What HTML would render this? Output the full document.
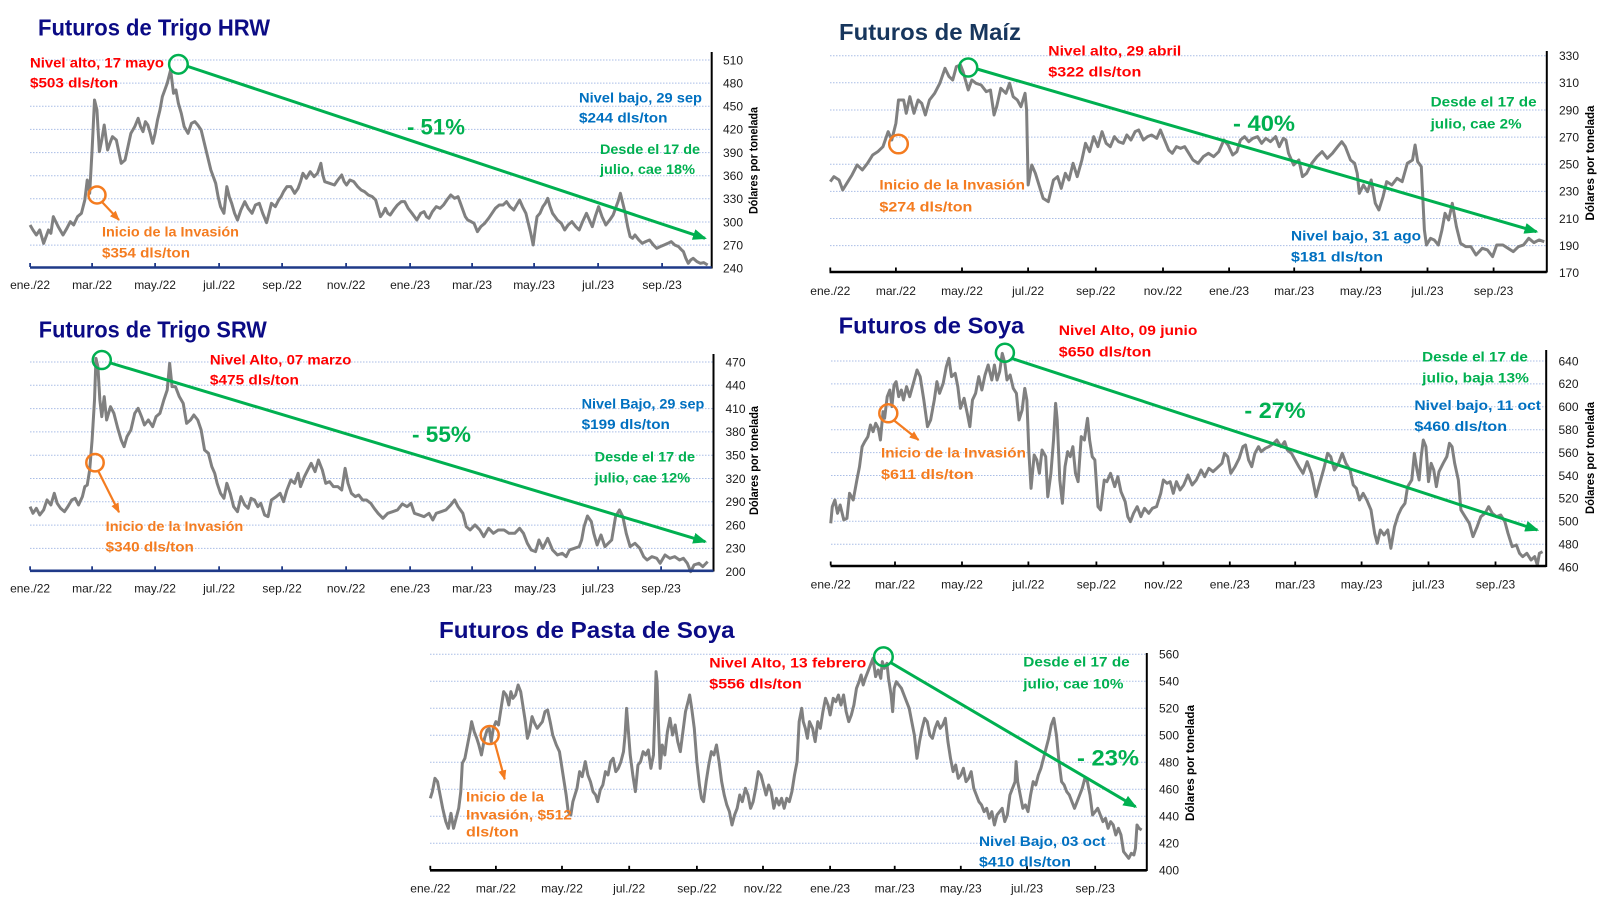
<!DOCTYPE html>
<html><head><meta charset="utf-8"><style>
body{margin:0;background:#fff}
svg{display:block}
.g{stroke:#a9bde6;stroke-width:1;stroke-dasharray:1.5 1.5}
.v{font-size:12px;fill:#1a1a1a}
.x{font-size:12px;fill:#1a1a1a;text-anchor:middle}
.a{font-weight:bold;font-size:14px}
.p{font-weight:bold;font-size:22px;fill:#00b050}
.t{font-weight:bold;font-size:23px;fill:#0b0b85}
.yl{font-weight:bold;font-size:12px;text-anchor:middle;fill:#000}
.ln{fill:none;stroke:#808080;stroke-width:3;stroke-linejoin:round;vector-effect:non-scaling-stroke}
.r{fill:#ff0000}.b{fill:#0070c0}.gr{fill:#00b050}.o{fill:#f47c20}
.gc{fill:none;stroke:#00b050;stroke-width:2.5}
.oc{fill:none;stroke:#f47c20;stroke-width:2.5}
.ga{stroke:#00b050;stroke-width:3}
.oa{stroke:#f47c20;stroke-width:2.2}
</style></head><body>
<svg width="1600" height="905" viewBox="0 0 1600 905" font-family="'Liberation Sans', sans-serif">
<defs>
<marker id="mg" markerWidth="14" markerHeight="11" refX="12" refY="5.5" orient="auto" markerUnits="userSpaceOnUse"><path d="M0,0 L14,5.5 L0,11 z" fill="#00b050"/></marker>
<marker id="mo" markerWidth="10" markerHeight="8" refX="9" refY="4" orient="auto" markerUnits="userSpaceOnUse"><path d="M0,0 L10,4 L0,8 z" fill="#f47c20"/></marker>
</defs>

<!-- ================= CHART 1: Trigo HRW ================= -->
<text class="t" x="38" y="35.5" textLength="232" lengthAdjust="spacingAndGlyphs">Futuros de Trigo HRW</text>
<g class="g">
<line x1="30" y1="60" x2="711" y2="60"/><line x1="30" y1="83.1" x2="711" y2="83.1"/><line x1="30" y1="106.3" x2="711" y2="106.3"/>
<line x1="30" y1="129.4" x2="711" y2="129.4"/><line x1="30" y1="152.6" x2="711" y2="152.6"/><line x1="30" y1="175.7" x2="711" y2="175.7"/>
<line x1="30" y1="198.8" x2="711" y2="198.8"/><line x1="30" y1="222" x2="711" y2="222"/><line x1="30" y1="245.1" x2="711" y2="245.1"/>
</g>
<g transform="matrix(0.4847 0 0 0.3333 0 0)">
<polyline class="ln" points="62,675 68,690 75,705 82,690 90,730 100,690 105,700 110,650 115,665 120,680 130,705 138,685 145,665 152,675 160,650 168,640 175,600 180,540 185,580 190,450 195,300 200,330 205,455 210,420 215,375 222,450 228,425 232,410 240,420 245,455 250,490 258,480 264,440 270,400 278,380 285,355 290,380 295,395 300,365 305,375 310,400 315,430 320,400 325,360 330,330 335,290 340,270 345,250 352,210 358,280 363,270 368,310 374,340 380,380 388,400 395,370 402,365 408,375 415,390 420,420 425,450 430,480 435,510 440,530 445,550 450,590 455,620 462,640 468,560 473,590 478,610 484,640 490,660 497,630 505,605 512,625 520,640 527,615 535,610 542,640 550,668 555,640 560,610 568,620 575,600 580,590 585,575 592,560 600,560 608,580 615,565 620,545 625,520 632,535 640,515 648,530 655,520 662,490 666,525 670,545 680,550 690,555 697,540 705,525 710,545 715,555 722,540 730,545 738,560 745,570 752,575 760,585 768,590 775,600 780,625 785,650 790,640 795,625 800,640 805,645 812,630 820,615 828,605 835,605 842,625 850,640 855,650 860,660 868,640 875,635 880,650 885,655 892,635 900,620 908,625 915,615 922,600 930,585 938,595 945,590 950,610 955,630 960,650 965,660 972,665 978,670 985,695 992,680 1000,670 1008,655 1015,640 1022,625 1030,615 1038,615 1045,605 1052,620 1060,630 1066,615 1072,600 1078,620 1085,640 1090,670 1095,700 1100,735 1104,690 1108,650 1114,640 1120,620 1125,610 1130,595 1135,620 1140,640 1145,650 1150,660 1158,670 1165,690 1172,675 1180,665 1188,680 1195,690 1202,665 1210,640 1216,660 1222,680 1228,650 1235,620 1242,650 1250,675 1258,660 1265,645 1270,625 1275,605 1280,580 1285,610 1290,640 1295,680 1300,710 1305,715 1310,705 1318,720 1325,730 1332,725 1340,720 1348,735 1355,745 1362,740 1370,735 1378,730 1385,725 1392,735 1400,740 1405,748 1410,755 1415,775 1420,790 1425,780 1430,775 1438,785 1445,790 1452,788 1460,795"/>
</g>
<line x1="711.7" y1="52" x2="711.7" y2="268.5" stroke="#000" stroke-width="2"/>
<line x1="30" y1="267.5" x2="711.7" y2="267.5" stroke="#1f3a88" stroke-width="2.6"/>
<g stroke="#1f3a88" stroke-width="1.8">
<line x1="30.1" y1="267" x2="30.1" y2="263"/><line x1="92.1" y1="267" x2="92.1" y2="263"/><line x1="155.1" y1="267" x2="155.1" y2="263"/><line x1="219.1" y1="267" x2="219.1" y2="263"/><line x1="282.1" y1="267" x2="282.1" y2="263"/><line x1="346.1" y1="267" x2="346.1" y2="263"/><line x1="410.1" y1="267" x2="410.1" y2="263"/><line x1="472.1" y1="267" x2="472.1" y2="263"/><line x1="534.1" y1="267" x2="534.1" y2="263"/><line x1="598.1" y1="267" x2="598.1" y2="263"/><line x1="662.1" y1="267" x2="662.1" y2="263"/>
</g>
<g class="v">
<text x="723" y="64.3">510</text><text x="723" y="87.4">480</text><text x="723" y="110.6">450</text><text x="723" y="133.7">420</text><text x="723" y="156.9">390</text><text x="723" y="180">360</text><text x="723" y="203.1">330</text><text x="723" y="226.3">300</text><text x="723" y="249.4">270</text><text x="723" y="272.6">240</text>
</g>
<text class="yl" transform="translate(757.5,160.5) rotate(-90)" textLength="107" lengthAdjust="spacingAndGlyphs">Dólares por tonelada</text>
<g class="x">
<text x="30.1" y="289">ene./22</text><text x="92.1" y="289">mar./22</text><text x="155.1" y="289">may./22</text><text x="219.1" y="289">jul./22</text><text x="282.1" y="289">sep./22</text><text x="346.1" y="289">nov./22</text><text x="410.1" y="289">ene./23</text><text x="472.1" y="289">mar./23</text><text x="534.1" y="289">may./23</text><text x="598.1" y="289">jul./23</text><text x="662.1" y="289">sep./23</text>
</g>
<line class="ga" x1="186.5" y1="66" x2="705" y2="238.3" marker-end="url(#mg)"/>
<circle class="gc" cx="178.4" cy="64.3" r="9.3"/>
<circle class="oc" cx="97" cy="195" r="8.5"/>
<line class="oa" x1="102.5" y1="202.5" x2="119" y2="220" marker-end="url(#mo)"/>
<text class="a r" x="30" y="67.3" textLength="134" lengthAdjust="spacingAndGlyphs">Nivel alto, 17 mayo</text>
<text class="a r" x="30" y="87.5" textLength="88" lengthAdjust="spacingAndGlyphs">$503 dls/ton</text>
<text class="p" x="407" y="134.5" textLength="58" lengthAdjust="spacingAndGlyphs">- 51%</text>
<text class="a b" x="579" y="102.7" textLength="123" lengthAdjust="spacingAndGlyphs">Nivel bajo, 29 sep</text>
<text class="a b" x="579" y="122.7" textLength="88.5" lengthAdjust="spacingAndGlyphs">$244 dls/ton</text>
<text class="a gr" x="600" y="154" textLength="100" lengthAdjust="spacingAndGlyphs">Desde el 17 de</text>
<text class="a gr" x="600" y="174" textLength="95" lengthAdjust="spacingAndGlyphs">julio, cae 18%</text>
<text class="a o" x="102" y="236.7" textLength="137" lengthAdjust="spacingAndGlyphs">Inicio de la Invasión</text>
<text class="a o" x="102" y="257.3" textLength="88" lengthAdjust="spacingAndGlyphs">$354 dls/ton</text>

<!-- ================= CHART 2: Maiz ================= -->
<text class="t" x="839" y="40" textLength="182" lengthAdjust="spacingAndGlyphs" style="fill:#17365d">Futuros de Maíz</text>
<g class="g">
<line x1="830" y1="55.7" x2="1546" y2="55.7"/><line x1="830" y1="82.8" x2="1546" y2="82.8"/><line x1="830" y1="110" x2="1546" y2="110"/>
<line x1="830" y1="137.1" x2="1546" y2="137.1"/><line x1="830" y1="164.2" x2="1546" y2="164.2"/><line x1="830" y1="191.4" x2="1546" y2="191.4"/>
<line x1="830" y1="218.5" x2="1546" y2="218.5"/><line x1="830" y1="245.6" x2="1546" y2="245.6"/>
</g>
<g transform="matrix(0.5166 0 0 0.3333 790 0)">
<polyline class="ln" points="78,545 85,530 95,540 102,570 110,550 120,525 130,495 140,510 150,490 160,465 170,455 180,440 190,395 197,420 205,370 210,300 220,300 225,340 232,290 240,340 248,300 255,310 262,345 270,300 280,280 290,250 300,205 308,230 315,240 322,200 330,195 335,215 345,270 352,240 360,250 370,255 380,275 388,270 395,345 400,320 408,265 418,280 425,250 432,290 440,300 447,320 455,280 458,330 461,555 468,495 475,520 483,560 490,595 500,605 510,540 518,530 525,565 533,520 540,540 548,490 556,530 565,480 572,430 580,455 588,410 596,440 604,395 612,430 620,440 628,410 636,425 645,430 652,405 660,420 668,395 675,390 684,420 692,410 700,405 710,415 717,390 725,420 733,450 740,460 748,440 756,445 764,440 772,460 780,480 790,490 800,470 810,460 820,470 830,455 840,420 848,435 857,465 865,455 872,420 880,410 888,425 896,415 905,410 913,430 921,415 930,425 940,410 947,440 955,415 960,420 965,460 975,495 985,480 992,530 1000,520 1010,490 1020,470 1030,455 1040,475 1050,460 1060,440 1068,425 1075,440 1085,480 1093,490 1098,520 1102,580 1110,555 1118,575 1125,540 1133,610 1140,630 1148,590 1155,545 1165,555 1175,535 1185,545 1195,490 1205,480 1210,435 1215,485 1222,500 1228,690 1232,735 1240,715 1247,720 1255,735 1262,690 1268,640 1275,660 1282,610 1290,680 1298,730 1308,740 1318,740 1328,765 1340,745 1350,750 1360,770 1368,735 1380,735 1390,745 1400,755 1410,740 1420,735 1430,715 1440,728 1450,720 1460,725"/>
</g>
<line x1="1546.8" y1="51" x2="1546.8" y2="272.5" stroke="#000" stroke-width="2"/>
<line x1="829.5" y1="272" x2="1546.8" y2="272" stroke="#000" stroke-width="2.6"/>
<g stroke="#000" stroke-width="1.8">
<line x1="830.3" y1="271.5" x2="830.3" y2="267.5"/><line x1="895.9" y1="271.5" x2="895.9" y2="267.5"/><line x1="962" y1="271.5" x2="962" y2="267.5"/><line x1="1028.1" y1="271.5" x2="1028.1" y2="267.5"/><line x1="1095.8" y1="271.5" x2="1095.8" y2="267.5"/><line x1="1163" y1="271.5" x2="1163" y2="267.5"/><line x1="1229.1" y1="271.5" x2="1229.1" y2="267.5"/><line x1="1294.2" y1="271.5" x2="1294.2" y2="267.5"/><line x1="1360.8" y1="271.5" x2="1360.8" y2="267.5"/><line x1="1427.5" y1="271.5" x2="1427.5" y2="267.5"/><line x1="1493.6" y1="271.5" x2="1493.6" y2="267.5"/>
</g>
<g class="v">
<text x="1559" y="60">330</text><text x="1559" y="87.1">310</text><text x="1559" y="114.3">290</text><text x="1559" y="141.4">270</text><text x="1559" y="168.5">250</text><text x="1559" y="195.7">230</text><text x="1559" y="222.8">210</text><text x="1559" y="249.9">190</text><text x="1559" y="277">170</text>
</g>
<text class="yl" transform="translate(1594,163) rotate(-90)" textLength="115" lengthAdjust="spacingAndGlyphs">Dólares por tonelada</text>
<g class="x">
<text x="830.3" y="295">ene./22</text><text x="895.9" y="295">mar./22</text><text x="962" y="295">may./22</text><text x="1028.1" y="295">jul./22</text><text x="1095.8" y="295">sep./22</text><text x="1163" y="295">nov./22</text><text x="1229.1" y="295">ene./23</text><text x="1294.2" y="295">mar./23</text><text x="1360.8" y="295">may./23</text><text x="1427.5" y="295">jul./23</text><text x="1493.6" y="295">sep./23</text>
</g>
<line class="ga" x1="977" y1="69" x2="1536.5" y2="231.7" marker-end="url(#mg)"/>
<circle class="gc" cx="968.2" cy="67.5" r="9"/>
<circle class="oc" cx="898.5" cy="144" r="9.3"/>
<text class="a r" x="1048.3" y="55.7" textLength="133" lengthAdjust="spacingAndGlyphs">Nivel alto, 29 abril</text>
<text class="a r" x="1048.3" y="76.7" textLength="93" lengthAdjust="spacingAndGlyphs">$322 dls/ton</text>
<text class="p" x="1233" y="131" textLength="62" lengthAdjust="spacingAndGlyphs">- 40%</text>
<text class="a gr" x="1430.6" y="106.7" textLength="106" lengthAdjust="spacingAndGlyphs">Desde el 17 de</text>
<text class="a gr" x="1430.6" y="128.3" textLength="91" lengthAdjust="spacingAndGlyphs">julio, cae 2%</text>
<text class="a b" x="1291" y="240.7" textLength="130" lengthAdjust="spacingAndGlyphs">Nivel bajo, 31 ago</text>
<text class="a b" x="1291" y="261.7" textLength="92" lengthAdjust="spacingAndGlyphs">$181 dls/ton</text>
<text class="a o" x="879.4" y="189.3" textLength="145.6" lengthAdjust="spacingAndGlyphs">Inicio de la Invasión</text>
<text class="a o" x="879.4" y="211.7" textLength="93" lengthAdjust="spacingAndGlyphs">$274 dls/ton</text>

<!-- ================= CHART 3: Trigo SRW ================= -->
<text class="t" x="38.8" y="337.5" textLength="228" lengthAdjust="spacingAndGlyphs">Futuros de Trigo SRW</text>
<g class="g">
<line x1="30" y1="362" x2="713" y2="362"/><line x1="30" y1="385.3" x2="713" y2="385.3"/><line x1="30" y1="408.6" x2="713" y2="408.6"/>
<line x1="30" y1="431.9" x2="713" y2="431.9"/><line x1="30" y1="455.2" x2="713" y2="455.2"/><line x1="30" y1="478.5" x2="713" y2="478.5"/>
<line x1="30" y1="501.8" x2="713" y2="501.8"/><line x1="30" y1="525.1" x2="713" y2="525.1"/><line x1="30" y1="548.4" x2="713" y2="548.4"/>
</g>
<g transform="matrix(0.4847 0 0 0.3333 0 300)">
<polyline class="ln" points="62,620 68,640 75,625 82,645 90,630 97,600 105,615 112,580 118,610 125,625 133,635 140,620 148,600 155,595 162,615 170,590 175,560 180,555 185,510 190,420 195,300 198,175 202,200 206,300 210,350 215,290 220,360 228,320 235,340 243,385 250,420 256,440 262,410 270,390 278,340 285,325 292,350 298,375 306,360 315,380 322,350 330,340 338,300 345,270 350,190 355,260 362,260 370,290 378,310 385,370 393,360 400,345 408,360 415,390 422,450 430,460 437,500 443,520 448,550 455,580 462,595 468,550 475,580 482,620 490,635 497,590 505,615 512,625 518,595 525,600 532,620 538,610 546,645 553,650 560,600 570,590 578,580 585,605 592,570 600,540 608,550 615,520 620,560 628,530 635,510 642,490 650,515 657,480 665,510 672,550 680,545 688,560 697,560 705,570 712,505 718,550 725,580 733,590 740,585 748,600 756,600 765,610 772,625 780,640 790,655 800,640 810,635 820,630 830,612 840,620 848,610 855,640 865,645 875,650 885,640 893,660 900,640 910,635 920,630 930,615 938,600 945,620 955,640 962,680 970,690 980,675 990,690 998,710 1008,685 1018,700 1028,690 1040,690 1050,700 1062,700 1072,685 1080,700 1088,730 1096,750 1105,755 1112,720 1120,745 1130,715 1140,750 1150,765 1160,760 1168,770 1175,750 1185,745 1195,740 1200,720 1205,680 1212,648 1220,665 1225,700 1232,735 1240,705 1248,740 1255,730 1262,720 1270,650 1278,630 1285,650 1292,700 1300,740 1310,730 1320,745 1328,770 1335,780 1345,770 1355,775 1362,790 1372,765 1382,775 1392,770 1402,780 1410,775 1418,790 1425,815 1432,795 1442,790 1450,800 1460,785"/>
</g>
<line x1="713.5" y1="354" x2="713.5" y2="571.5" stroke="#000" stroke-width="2"/>
<line x1="30" y1="570.8" x2="713.5" y2="570.8" stroke="#1f3a88" stroke-width="2.6"/>
<g stroke="#1f3a88" stroke-width="1.8">
<line x1="30.1" y1="570.3" x2="30.1" y2="566.3"/><line x1="92.1" y1="570.3" x2="92.1" y2="566.3"/><line x1="155.1" y1="570.3" x2="155.1" y2="566.3"/><line x1="219.1" y1="570.3" x2="219.1" y2="566.3"/><line x1="282.1" y1="570.3" x2="282.1" y2="566.3"/><line x1="346.1" y1="570.3" x2="346.1" y2="566.3"/><line x1="410.1" y1="570.3" x2="410.1" y2="566.3"/><line x1="472.1" y1="570.3" x2="472.1" y2="566.3"/><line x1="535.1" y1="570.3" x2="535.1" y2="566.3"/><line x1="598.1" y1="570.3" x2="598.1" y2="566.3"/><line x1="661.1" y1="570.3" x2="661.1" y2="566.3"/>
</g>
<g class="v">
<text x="725.5" y="366.3">470</text><text x="725.5" y="389.6">440</text><text x="725.5" y="412.9">410</text><text x="725.5" y="436.2">380</text><text x="725.5" y="459.5">350</text><text x="725.5" y="482.8">320</text><text x="725.5" y="506.1">290</text><text x="725.5" y="529.4">260</text><text x="725.5" y="552.7">230</text><text x="725.5" y="576">200</text>
</g>
<text class="yl" transform="translate(758,460.5) rotate(-90)" textLength="109" lengthAdjust="spacingAndGlyphs">Dólares por tonelada</text>
<g class="x">
<text x="30.1" y="592.5">ene./22</text><text x="92.1" y="592.5">mar./22</text><text x="155.1" y="592.5">may./22</text><text x="219.1" y="592.5">jul./22</text><text x="282.1" y="592.5">sep./22</text><text x="346.1" y="592.5">nov./22</text><text x="410.1" y="592.5">ene./23</text><text x="472.1" y="592.5">mar./23</text><text x="535.1" y="592.5">may./23</text><text x="598.1" y="592.5">jul./23</text><text x="661.1" y="592.5">sep./23</text>
</g>
<line class="ga" x1="110.5" y1="363" x2="705.2" y2="541.7" marker-end="url(#mg)"/>
<circle class="gc" cx="101.8" cy="360" r="9"/>
<circle class="oc" cx="95" cy="462.7" r="8.7"/>
<line class="oa" x1="98.5" y1="471.5" x2="119" y2="512.3" marker-end="url(#mo)"/>
<text class="a r" x="209.9" y="364.3" textLength="141.5" lengthAdjust="spacingAndGlyphs">Nivel Alto, 07 marzo</text>
<text class="a r" x="209.9" y="384.3" textLength="89" lengthAdjust="spacingAndGlyphs">$475 dls/ton</text>
<text class="p" x="412" y="441.8" textLength="59" lengthAdjust="spacingAndGlyphs">- 55%</text>
<text class="a b" x="581.6" y="408.3" textLength="122.7" lengthAdjust="spacingAndGlyphs">Nivel Bajo, 29 sep</text>
<text class="a b" x="581.6" y="429" textLength="88.3" lengthAdjust="spacingAndGlyphs">$199 dls/ton</text>
<text class="a gr" x="594.7" y="461.7" textLength="100.3" lengthAdjust="spacingAndGlyphs">Desde el 17 de</text>
<text class="a gr" x="594.7" y="482.3" textLength="95.5" lengthAdjust="spacingAndGlyphs">julio, cae 12%</text>
<text class="a o" x="105.7" y="531" textLength="137.6" lengthAdjust="spacingAndGlyphs">Inicio de la Invasión</text>
<text class="a o" x="105.7" y="551.7" textLength="88.2" lengthAdjust="spacingAndGlyphs">$340 dls/ton</text>

<!-- ================= CHART 4: Soya ================= -->
<text class="t" x="838.6" y="333.5" textLength="185.6" lengthAdjust="spacingAndGlyphs">Futuros de Soya</text>
<g class="g">
<line x1="831" y1="361" x2="1546" y2="361"/><line x1="831" y1="383.9" x2="1546" y2="383.9"/><line x1="831" y1="406.8" x2="1546" y2="406.8"/>
<line x1="831" y1="429.7" x2="1546" y2="429.7"/><line x1="831" y1="452.6" x2="1546" y2="452.6"/><line x1="831" y1="475.5" x2="1546" y2="475.5"/>
<line x1="831" y1="498.4" x2="1546" y2="498.4"/><line x1="831" y1="521.3" x2="1546" y2="521.3"/><line x1="831" y1="544.2" x2="1546" y2="544.2"/>
</g>
<g transform="matrix(0.523 0 0 0.3333 780 300)">
<polyline class="ln" points="97,670 100,620 105,600 110,640 115,615 122,660 128,655 133,580 140,600 147,540 152,500 157,440 162,425 168,410 173,375 178,395 183,370 188,385 192,420 197,335 200,355 205,290 210,270 214,320 218,255 222,245 227,290 232,270 236,300 242,260 248,290 255,250 262,210 268,230 275,300 282,380 288,360 295,300 300,245 305,280 312,250 318,200 323,175 328,230 335,220 340,260 345,325 352,295 358,340 363,380 368,300 374,280 380,230 386,270 392,225 398,195 405,240 410,195 415,240 420,215 425,160 430,190 434,240 440,225 446,265 452,280 457,360 463,330 468,265 472,300 476,460 480,565 486,465 491,480 496,520 501,450 508,470 512,590 518,520 523,420 527,310 530,360 535,540 540,610 545,500 550,455 555,470 560,440 565,520 570,545 576,410 582,420 588,355 592,420 597,470 602,480 608,620 613,630 620,540 625,545 632,520 640,560 646,530 652,575 660,605 665,650 670,665 676,640 683,620 690,650 697,625 705,640 712,625 720,620 728,580 733,540 740,550 746,545 752,580 758,545 765,570 772,555 780,525 788,555 796,540 805,510 812,530 820,505 828,515 835,505 845,490 850,460 856,470 862,520 870,500 878,475 885,440 890,435 896,480 902,500 908,460 915,440 920,455 928,445 935,440 944,430 950,420 958,440 965,425 970,450 978,460 985,480 992,500 1000,520 1008,485 1016,520 1025,590 1032,550 1040,505 1047,460 1053,470 1060,510 1068,490 1075,460 1082,490 1090,510 1096,555 1102,565 1108,600 1115,580 1122,600 1130,630 1137,700 1142,730 1148,690 1155,705 1162,690 1168,745 1175,680 1182,645 1188,625 1195,610 1200,560 1208,540 1213,460 1218,510 1222,540 1226,470 1230,420 1235,440 1240,545 1245,490 1250,510 1255,560 1260,515 1268,490 1275,470 1280,430 1285,440 1290,490 1297,540 1302,630 1310,650 1318,670 1325,710 1333,680 1340,650 1348,640 1355,620 1362,640 1370,650 1378,645 1386,665 1392,700 1400,740 1408,735 1414,760 1420,770 1428,760 1436,780 1443,770 1448,795 1452,760 1458,755"/>
</g>
<line x1="1546.2" y1="350" x2="1546.2" y2="567" stroke="#000" stroke-width="2"/>
<line x1="830.5" y1="566" x2="1546.2" y2="566" stroke="#000" stroke-width="2.6"/>
<g stroke="#000" stroke-width="1.8">
<line x1="830.7" y1="565.5" x2="830.7" y2="561.5"/><line x1="895" y1="565.5" x2="895" y2="561.5"/><line x1="962" y1="565.5" x2="962" y2="561.5"/><line x1="1028.4" y1="565.5" x2="1028.4" y2="561.5"/><line x1="1096.4" y1="565.5" x2="1096.4" y2="561.5"/><line x1="1163.4" y1="565.5" x2="1163.4" y2="561.5"/><line x1="1229.8" y1="565.5" x2="1229.8" y2="561.5"/><line x1="1295.2" y1="565.5" x2="1295.2" y2="561.5"/><line x1="1361.6" y1="565.5" x2="1361.6" y2="561.5"/><line x1="1428.5" y1="565.5" x2="1428.5" y2="561.5"/><line x1="1495.5" y1="565.5" x2="1495.5" y2="561.5"/>
</g>
<g class="v">
<text x="1558.5" y="365.3">640</text><text x="1558.5" y="388.2">620</text><text x="1558.5" y="411.1">600</text><text x="1558.5" y="434">580</text><text x="1558.5" y="456.9">560</text><text x="1558.5" y="479.8">540</text><text x="1558.5" y="502.7">520</text><text x="1558.5" y="525.6">500</text><text x="1558.5" y="548.5">480</text><text x="1558.5" y="571.4">460</text>
</g>
<text class="yl" transform="translate(1594,458) rotate(-90)" textLength="112" lengthAdjust="spacingAndGlyphs">Dólares por tonelada</text>
<g class="x">
<text x="830.7" y="588.5">ene./22</text><text x="895" y="588.5">mar./22</text><text x="962" y="588.5">may./22</text><text x="1028.4" y="588.5">jul./22</text><text x="1096.4" y="588.5">sep./22</text><text x="1163.4" y="588.5">nov./22</text><text x="1229.8" y="588.5">ene./23</text><text x="1295.2" y="588.5">mar./23</text><text x="1361.6" y="588.5">may./23</text><text x="1428.5" y="588.5">jul./23</text><text x="1495.5" y="588.5">sep./23</text>
</g>
<line class="ga" x1="1012" y1="358.5" x2="1537.3" y2="530" marker-end="url(#mg)"/>
<circle class="gc" cx="1004.9" cy="352.7" r="9"/>
<circle class="oc" cx="888.3" cy="413.3" r="9"/>
<line class="oa" x1="893.5" y1="420" x2="918.6" y2="440" marker-end="url(#mo)"/>
<text class="a r" x="1058.8" y="335" textLength="138.6" lengthAdjust="spacingAndGlyphs">Nivel Alto, 09 junio</text>
<text class="a r" x="1058.8" y="356.7" textLength="92.5" lengthAdjust="spacingAndGlyphs">$650 dls/ton</text>
<text class="p" x="1244.4" y="417.8" textLength="61.2" lengthAdjust="spacingAndGlyphs">- 27%</text>
<text class="a gr" x="1422.2" y="361.7" textLength="105.7" lengthAdjust="spacingAndGlyphs">Desde el 17 de</text>
<text class="a gr" x="1422.2" y="382.7" textLength="106.7" lengthAdjust="spacingAndGlyphs">julio, baja 13%</text>
<text class="a b" x="1414.4" y="410" textLength="126.6" lengthAdjust="spacingAndGlyphs">Nivel bajo, 11 oct</text>
<text class="a b" x="1414.4" y="431" textLength="92.6" lengthAdjust="spacingAndGlyphs">$460 dls/ton</text>
<text class="a o" x="881" y="457.7" textLength="144.9" lengthAdjust="spacingAndGlyphs">Inicio de la Invasión</text>
<text class="a o" x="881" y="479" textLength="92.6" lengthAdjust="spacingAndGlyphs">$611 dls/ton</text>

<!-- ================= CHART 5: Pasta de Soya ================= -->
<text class="t" x="439" y="638" textLength="295.6" lengthAdjust="spacingAndGlyphs">Futuros de Pasta de Soya</text>
<g class="g">
<line x1="430" y1="654.3" x2="1146" y2="654.3"/><line x1="430" y1="681.3" x2="1146" y2="681.3"/><line x1="430" y1="708.3" x2="1146" y2="708.3"/>
<line x1="430" y1="735.3" x2="1146" y2="735.3"/><line x1="430" y1="762.3" x2="1146" y2="762.3"/><line x1="430" y1="789.3" x2="1146" y2="789.3"/>
<line x1="430" y1="816.3" x2="1146" y2="816.3"/><line x1="430" y1="843.3" x2="1146" y2="843.3"/>
</g>
<g transform="matrix(0.5166 0 0 0.3333 390 595)">
<polyline class="ln" points="78,610 82,590 87,550 92,560 97,600 102,640 108,680 113,700 118,655 123,700 128,670 133,640 137,590 140,505 145,490 150,450 155,410 158,380 163,410 168,430 172,450 177,480 183,430 188,405 192,400 196,440 200,400 205,380 210,390 215,340 220,290 225,300 230,330 234,290 238,310 243,300 248,270 253,290 258,340 262,380 266,430 270,410 275,365 280,385 285,400 290,390 295,380 300,350 305,345 310,380 315,420 322,450 328,470 333,520 337,560 341,600 345,650 350,660 354,620 358,600 362,580 367,530 372,545 378,500 383,540 388,560 393,590 398,600 402,620 407,585 412,570 417,530 422,540 427,500 432,490 437,530 442,520 447,500 452,470 455,420 458,340 461,400 465,480 470,540 475,590 480,510 485,500 490,470 495,480 500,465 505,520 510,480 513,340 515,230 517,260 520,400 523,520 527,450 532,480 537,410 542,370 547,420 552,390 557,440 562,470 567,410 572,350 577,320 580,300 584,340 589,400 594,500 599,570 603,610 607,620 612,560 617,510 622,470 627,480 632,450 637,500 642,560 647,600 652,630 657,650 662,690 667,660 672,640 677,600 682,620 688,580 693,600 698,640 703,620 708,580 713,530 718,540 723,570 728,600 733,570 738,590 743,640 748,610 753,630 758,610 763,640 768,610 773,620 778,590 783,540 788,500 792,380 797,340 800,380 804,400 808,430 812,380 818,400 823,440 828,380 833,400 838,350 843,310 848,330 852,360 858,310 863,320 868,300 873,330 878,300 883,350 888,380 893,360 898,330 903,280 908,260 912,240 916,270 920,250 925,230 930,210 935,190 940,245 945,225 950,250 953,200 957,220 962,205 965,250 970,300 973,350 976,280 980,260 985,270 990,280 995,300 1000,320 1005,340 1010,380 1015,420 1020,490 1025,440 1030,400 1035,370 1040,380 1045,420 1050,430 1055,400 1060,380 1065,400 1070,390 1075,370 1080,440 1085,490 1090,530 1095,510 1100,550 1105,540 1110,520 1115,560 1120,550 1125,530 1130,580 1135,600 1140,620 1145,630 1150,650 1155,640 1160,670 1165,650 1170,690 1175,660 1180,650 1185,640 1190,680 1195,660 1200,600 1205,580 1210,560 1212,500 1215,560 1220,600 1225,640 1230,630 1235,650 1240,600 1245,560 1250,570 1255,540 1260,520 1265,490 1270,460 1275,430 1280,390 1285,370 1290,420 1295,500 1300,560 1305,570 1310,590 1315,600 1320,620 1325,640 1330,620 1335,600 1340,580 1345,550 1350,560 1355,600 1360,660 1365,650 1370,640 1375,660 1380,680 1385,670 1390,700 1395,680 1400,690 1405,720 1410,700 1415,720 1420,770 1425,780 1430,790 1435,775 1440,780 1443,760 1446,690 1450,700 1455,705"/>
</g>
<line x1="1146.8" y1="653" x2="1146.8" y2="871" stroke="#000" stroke-width="2"/>
<line x1="430" y1="870.3" x2="1146.8" y2="870.3" stroke="#000" stroke-width="2.6"/>
<g stroke="#000" stroke-width="1.8">
<line x1="430.3" y1="869.8" x2="430.3" y2="865.8"/><line x1="495.9" y1="869.8" x2="495.9" y2="865.8"/><line x1="562" y1="869.8" x2="562" y2="865.8"/><line x1="629.2" y1="869.8" x2="629.2" y2="865.8"/><line x1="696.9" y1="869.8" x2="696.9" y2="865.8"/><line x1="763" y1="869.8" x2="763" y2="865.8"/><line x1="830.1" y1="869.8" x2="830.1" y2="865.8"/><line x1="894.7" y1="869.8" x2="894.7" y2="865.8"/><line x1="960.8" y1="869.8" x2="960.8" y2="865.8"/><line x1="1027" y1="869.8" x2="1027" y2="865.8"/><line x1="1095.2" y1="869.8" x2="1095.2" y2="865.8"/>
</g>
<g class="v">
<text x="1159" y="658.6">560</text><text x="1159" y="685.6">540</text><text x="1159" y="712.6">520</text><text x="1159" y="739.6">500</text><text x="1159" y="766.6">480</text><text x="1159" y="793.6">460</text><text x="1159" y="820.6">440</text><text x="1159" y="847.6">420</text><text x="1159" y="874.6">400</text>
</g>
<text class="yl" transform="translate(1194,763) rotate(-90)" textLength="116" lengthAdjust="spacingAndGlyphs">Dólares por tonelada</text>
<g class="x">
<text x="430.3" y="892.5">ene./22</text><text x="495.9" y="892.5">mar./22</text><text x="562" y="892.5">may./22</text><text x="629.2" y="892.5">jul./22</text><text x="696.9" y="892.5">sep./22</text><text x="763" y="892.5">nov./22</text><text x="830.1" y="892.5">ene./23</text><text x="894.7" y="892.5">mar./23</text><text x="960.8" y="892.5">may./23</text><text x="1027" y="892.5">jul./23</text><text x="1095.2" y="892.5">sep./23</text>
</g>
<line class="ga" x1="890.5" y1="662.5" x2="1135.5" y2="806.7" marker-end="url(#mg)"/>
<circle class="gc" cx="883.4" cy="656.7" r="9.3"/>
<circle class="oc" cx="489.7" cy="735" r="9"/>
<line class="oa" x1="495" y1="743.5" x2="504.7" y2="779.3" marker-end="url(#mo)"/>
<text class="a r" x="709.3" y="667.7" textLength="157" lengthAdjust="spacingAndGlyphs">Nivel Alto, 13 febrero</text>
<text class="a r" x="709.3" y="688.7" textLength="92.5" lengthAdjust="spacingAndGlyphs">$556 dls/ton</text>
<text class="p" x="1077" y="765.5" textLength="62" lengthAdjust="spacingAndGlyphs">- 23%</text>
<text class="a gr" x="1023.3" y="666.7" textLength="106.4" lengthAdjust="spacingAndGlyphs">Desde el 17 de</text>
<text class="a gr" x="1023.3" y="688.3" textLength="100.2" lengthAdjust="spacingAndGlyphs">julio, cae 10%</text>
<text class="a b" x="979" y="846" textLength="126.6" lengthAdjust="spacingAndGlyphs">Nivel Bajo, 03 oct</text>
<text class="a b" x="979" y="866.7" textLength="92" lengthAdjust="spacingAndGlyphs">$410 dls/ton</text>
<text class="a o" x="466" y="801.7" textLength="78" lengthAdjust="spacingAndGlyphs">Inicio de la</text>
<text class="a o" x="466" y="819.3" textLength="105.9" lengthAdjust="spacingAndGlyphs">Invasión, $512</text>
<text class="a o" x="466" y="836.7" textLength="52.7" lengthAdjust="spacingAndGlyphs">dls/ton</text>
</svg>
</body></html>
